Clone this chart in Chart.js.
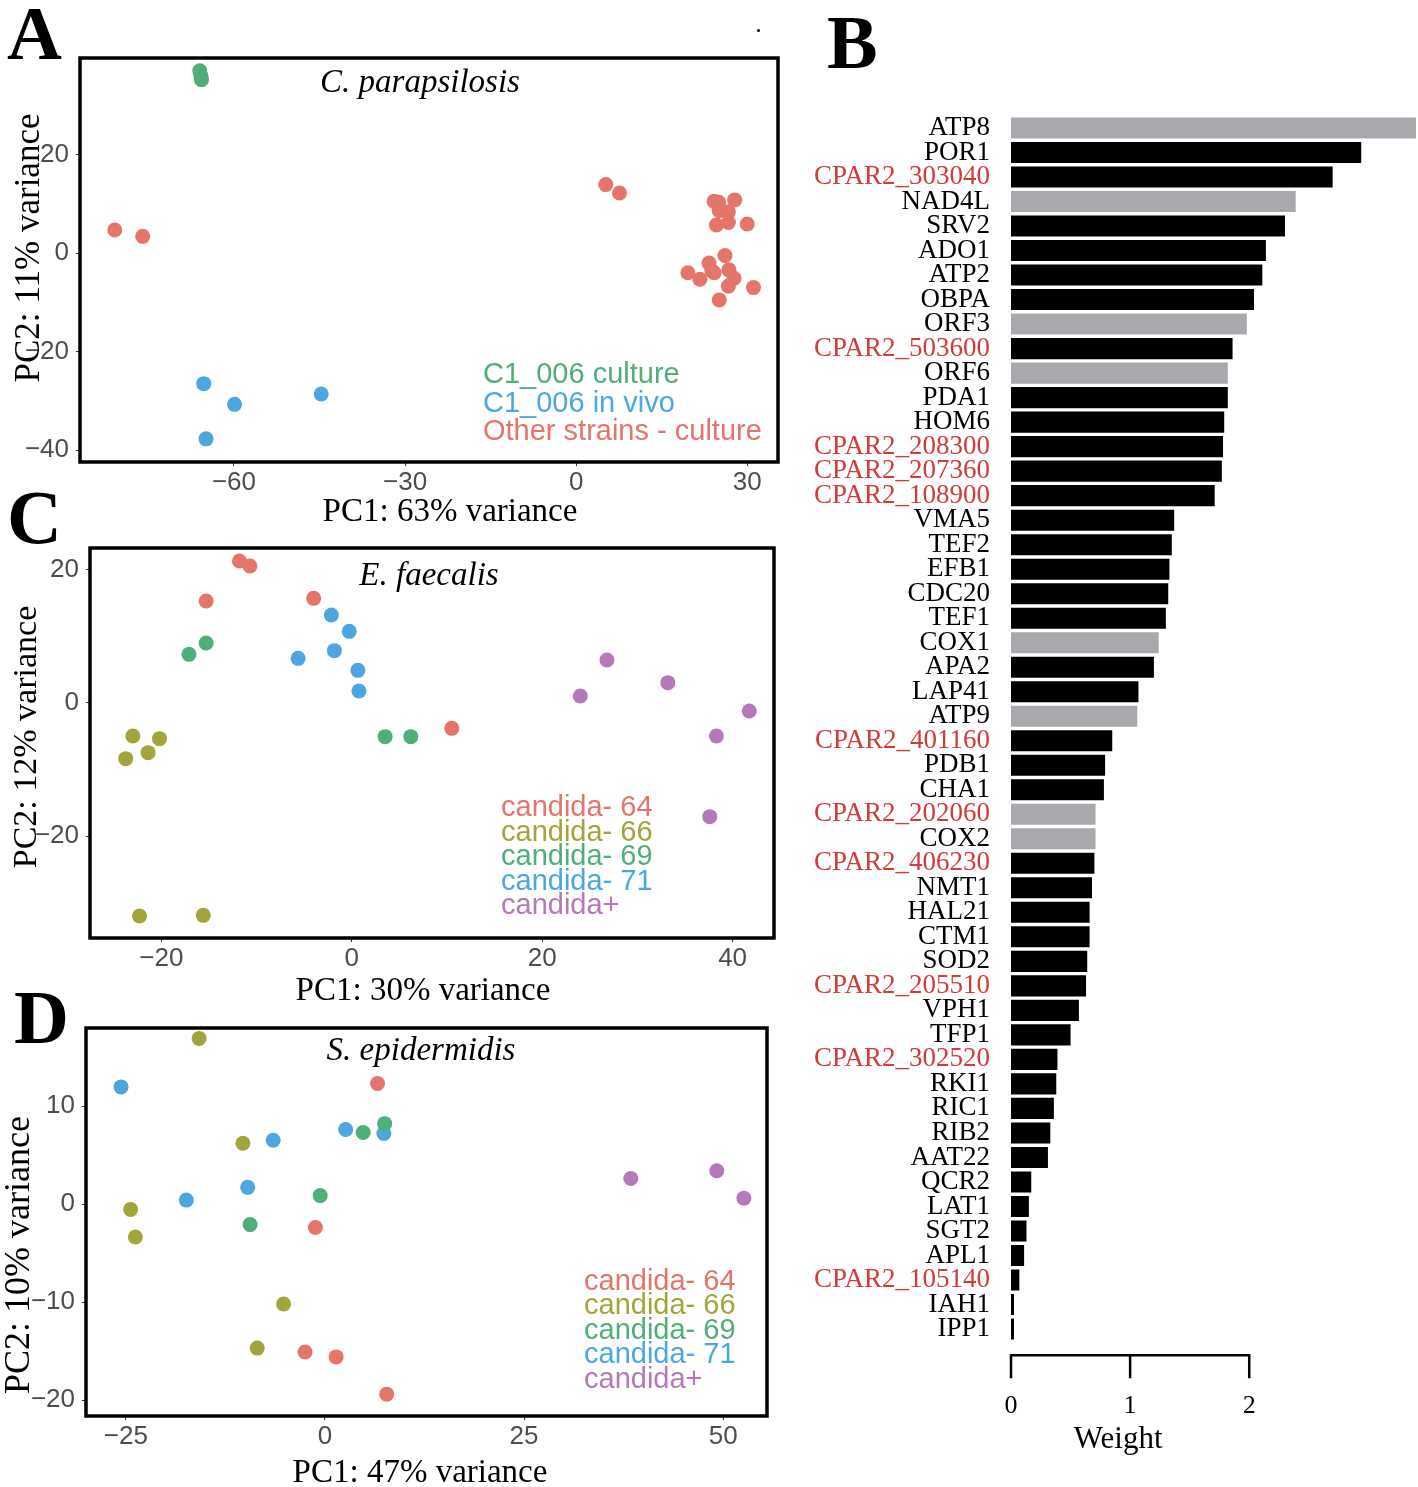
<!DOCTYPE html>
<html><head><meta charset="utf-8">
<script src="https://cdn.jsdelivr.net/npm/chart.js@4.4.0/dist/chart.umd.min.js"></script>
<style>
html,body{margin:0;padding:0;background:#fff;}
body{width:1418px;height:1487px;position:relative;overflow:hidden;}
.panel{position:absolute;}
.letter{position:absolute;font-family:'Liberation Serif','Times New Roman',serif;font-weight:bold;font-size:76px;line-height:1;color:#000;}
.dot{position:absolute;left:757px;top:29px;width:3px;height:3px;background:#000;border-radius:50%;}
</style></head><body>
<div class="panel" style="left:0;top:0"><canvas id="cA" width="800" height="530"></canvas></div>
<div class="panel" style="left:0;top:530px"><canvas id="cC" width="800" height="480"></canvas></div>
<div class="panel" style="left:0;top:1010px"><canvas id="cD" width="800" height="477"></canvas></div>
<div class="panel" style="left:800px;top:90px"><canvas id="cB" width="618" height="1397"></canvas></div>
<div class="letter" style="left:7px;top:-5px">A</div>
<div class="letter" style="left:827px;top:4px">B</div>
<div class="letter" style="left:7px;top:479px">C</div>
<div class="letter" style="left:14px;top:979px">D</div>
<div class="dot"></div>
<script>
// ---------- Panel A data ----------
const A_X_TICKS = [-60, -30, 0, 30];
const A_Y_TICKS = [-40, -20, 0, 20];
const A_GROUPS = ['C1_006 culture', 'C1_006 in vivo', 'Other strains - culture'];
const A_CULTURE_X = [-66.0, -65.8, -65.7];
const A_CULTURE_Y = [37.0, 36.0, 35.2];
const A_INVIVO_X = [-65.3, -59.9, -44.7, -64.9];
const A_INVIVO_Y = [-26.5, -30.7, -28.6, -37.7];
const A_OTHER_X = [-80.9, -76.0, 5.2, 7.6, 24.2, 27.8, 25.1, 26.7, 24.6, 26.7, 30.0, 26.1, 19.6, 23.3, 21.7, 24.2, 26.8, 27.7, 26.7, 31.1, 25.1, 25.0, 23.8];
const A_OTHER_Y = [4.7, 3.4, 13.9, 12.2, 10.5, 10.8, 8.6, 8.4, 5.7, 6.2, 5.9, -0.5, -4.0, -2.0, -5.3, -4.0, -3.4, -5.1, -6.7, -7.0, -9.5, 10.3, -3.6];

// ---------- Panel C data ----------
const C_X_TICKS = [-20, 0, 20, 40];
const C_Y_TICKS = [-20, 0, 20];
const CAND_GROUPS = ['candida- 64', 'candida- 66', 'candida- 69', 'candida- 71', 'candida+'];
const C_64_X = [-11.8, -10.7, -15.3, -4.0, 10.5];
const C_64_Y = [21.25, 20.5, 15.25, 15.65, -3.85];
const C_66_X = [-23.0, -20.2, -21.4, -23.75, -22.3, -15.6];
const C_66_Y = [-5.0, -5.4, -7.5, -8.4, -32.0, -31.9];
const C_69_X = [-17.1, -15.3, 3.5, 6.2];
const C_69_Y = [7.25, 8.95, -5.1, -5.1];
const C_71_X = [-2.15, -0.27, -1.83, -5.64, 0.64, 0.75];
const C_71_Y = [13.15, 10.7, 7.8, 6.65, 4.85, 1.75];
const C_PLUS_X = [26.8, 33.2, 24.0, 41.75, 38.3, 37.6];
const C_PLUS_Y = [6.4, 3.0, 1.0, -1.25, -5.0, -17.1];

// ---------- Panel D data ----------
const D_X_TICKS = [-25, 0, 25, 50];
const D_Y_TICKS = [-20, -10, 0, 10];
const D_64_X = [6.6, -1.2, -2.5, 1.4, 7.75];
const D_64_Y = [12.3, -2.4, -15.1, -15.6, -19.4];
const D_66_X = [-15.8, -10.3, -24.4, -23.8, -5.2, -8.5];
const D_66_Y = [16.9, 6.2, -0.55, -3.36, -10.2, -14.7];
const D_69_X = [7.5, 4.8, -0.6, -9.4];
const D_69_Y = [8.2, 7.3, 0.86, -2.1];
const D_71_X = [-25.6, -6.5, 2.6, 7.4, -9.7, -17.4];
const D_71_Y = [11.95, 6.5, 7.6, 7.2, 1.7, 0.4];
const D_PLUS_X = [38.4, 49.2, 52.6];
const D_PLUS_Y = [2.6, 3.4, 0.6];

// ---------- Panel B data ----------
const B_GENES = ['ATP8','POR1','CPAR2_303040','NAD4L','SRV2','ADO1','ATP2','OBPA','ORF3','CPAR2_503600','ORF6','PDA1','HOM6','CPAR2_208300','CPAR2_207360','CPAR2_108900','VMA5','TEF2','EFB1','CDC20','TEF1','COX1','APA2','LAP41','ATP9','CPAR2_401160','PDB1','CHA1','CPAR2_202060','COX2','CPAR2_406230','NMT1','HAL21','CTM1','SOD2','CPAR2_205510','VPH1','TFP1','CPAR2_302520','RKI1','RIC1','RIB2','AAT22','QCR2','LAT1','SGT2','APL1','CPAR2_105140','IAH1','IPP1'];
const B_WEIGHTS = [3.40,2.94,2.70,2.39,2.30,2.14,2.11,2.04,1.98,1.86,1.82,1.82,1.79,1.78,1.77,1.71,1.37,1.35,1.33,1.32,1.30,1.24,1.20,1.07,1.06,0.85,0.79,0.78,0.71,0.71,0.70,0.68,0.66,0.66,0.64,0.63,0.57,0.50,0.39,0.38,0.36,0.33,0.31,0.17,0.15,0.13,0.11,0.07,0.025,0.025];
const B_GREY_GENES = ['ATP8','NAD4L','ORF3','ORF6','COX1','ATP9','CPAR2_202060','COX2'];
const B_TICKS = [0, 1, 2];

// ---------- styles ----------
const RED = '#E5746A', OLIVE = '#A4A43C', GREEN = '#50AE78', BLUE = '#4DA6DF', PURPLE = '#B479B8';
const SANS = "'Liberation Sans', Arial, Helvetica, sans-serif";
const SERIF = "'Liberation Serif', 'Times New Roman', serif";

const zip = (xs, ys) => xs.map((x, i) => ({x, y: ys[i]}));
const fmt = v => (v < 0 ? '\u2212' + Math.abs(v) : String(v));
const noPadY = s => { s.paddingTop = 0; s.paddingBottom = 0; };
const noPadX = s => { s.paddingLeft = 0; s.paddingRight = 0; };

const decoPlugin = {
  id: 'deco',
  afterDatasetsDraw(chart, args, o) {
    const ctx = chart.ctx, ca = chart.chartArea;
    ctx.save();
    ctx.lineWidth = 3.5;
    ctx.strokeStyle = '#000';
    ctx.strokeRect(ca.left, ca.top, ca.right - ca.left, ca.bottom - ca.top);
    ctx.fillStyle = '#000';
    ctx.textAlign = 'center';
    ctx.textBaseline = 'middle';
    ctx.font = 'italic 33px ' + SERIF;
    ctx.fillText(o.title, o.titleX, o.titleY);
    ctx.font = o.xtSize + 'px ' + SERIF;
    ctx.fillText(o.xtitle, o.xtX, o.xtY);
    ctx.save();
    ctx.translate(o.ytX, o.ytY);
    ctx.rotate(-Math.PI / 2);
    ctx.font = o.ytSize + 'px ' + SERIF;
    ctx.fillText(o.ytitle, 0, 0);
    ctx.restore();
    ctx.font = o.legendSize + 'px ' + SANS;
    ctx.textAlign = 'left';
    chart.data.datasets.forEach((ds, i) => {
      ctx.fillStyle = ds.backgroundColor;
      ctx.fillText(ds.label, o.legendX, o.legendY + i * o.legendStep);
    });
    ctx.restore();
  }
};

function scatterChart(id, datasets, c) {
  return new Chart(document.getElementById(id), {
    type: 'scatter',
    data: {datasets: datasets.map(d => ({label: d.label, data: d.data, backgroundColor: d.color, borderWidth: 0, pointRadius: 7.5, pointHoverRadius: 7.5}))},
    plugins: [decoPlugin],
    options: {
      responsive: false, animation: false, devicePixelRatio: 1,
      layout: {padding: {top: c.padTop, right: c.padRight, left: 0, bottom: 0}},
      plugins: {legend: {display: false}, tooltip: {enabled: false},
        deco: {title: c.title, titleX: c.titleX, titleY: c.titleY,
               xtitle: c.xtitle, xtX: c.xtX, xtY: c.xtY, xtSize: c.xtSize,
               ytitle: c.ytitle, ytX: c.ytX, ytY: c.ytY, ytSize: c.ytSize,
               legendX: c.legendX, legendY: c.legendY, legendStep: c.legendStep, legendSize: 29}},
      scales: {
        x: {type: 'linear', min: c.xmin, max: c.xmax,
          afterBuildTicks: s => { s.ticks = c.xticks.map(v => ({value: v})); },
          afterFit: s => { s.height = c.xh; noPadX(s); },
          grid: {display: true, drawOnChartArea: false, drawTicks: true, tickLength: 4, color: '#333', lineWidth: 1},
          border: {display: false},
          ticks: {font: {family: SANS, size: 26}, color: '#4D4D4D', padding: 1, maxRotation: 0, autoSkip: false, callback: v => fmt(v)},
          title: {display: false}
        },
        y: {type: 'linear', min: c.ymin, max: c.ymax,
          afterBuildTicks: s => { s.ticks = c.yticks.map(v => ({value: v})); },
          afterFit: s => { s.width = c.yw; noPadY(s); },
          grid: {display: true, drawOnChartArea: false, drawTicks: true, tickLength: 4, color: '#333', lineWidth: 1},
          border: {display: false},
          ticks: {font: {family: SANS, size: 26}, color: '#4D4D4D', padding: 7, autoSkip: false, callback: v => fmt(v)},
          title: {display: false}
        }
      }
    }
  });
}

scatterChart('cA', [
  {label: A_GROUPS[0], data: zip(A_CULTURE_X, A_CULTURE_Y), color: GREEN},
  {label: A_GROUPS[1], data: zip(A_INVIVO_X, A_INVIVO_Y), color: BLUE},
  {label: A_GROUPS[2], data: zip(A_OTHER_X, A_OTHER_Y), color: RED}
], {padTop: 58, padRight: 22, xh: 68, yw: 80, xmin: -87.0, xmax: 35.4, ymin: -42.4, ymax: 39.6,
   xticks: A_X_TICKS, yticks: A_Y_TICKS,
   xtitle: 'PC1: 63% variance', xtX: 450, xtY: 512, xtSize: 33,
   ytitle: 'PC2: 11% variance', ytX: 30, ytY: 248, ytSize: 35,
   title: 'C. parapsilosis', titleX: 420, titleY: 83, legendX: 483, legendY: 375, legendStep: 28.5});

scatterChart('cC', [
  {label: CAND_GROUPS[0], data: zip(C_64_X, C_64_Y), color: RED},
  {label: CAND_GROUPS[1], data: zip(C_66_X, C_66_Y), color: OLIVE},
  {label: CAND_GROUPS[2], data: zip(C_69_X, C_69_Y), color: GREEN},
  {label: CAND_GROUPS[3], data: zip(C_71_X, C_71_Y), color: BLUE},
  {label: CAND_GROUPS[4], data: zip(C_PLUS_X, C_PLUS_Y), color: PURPLE}
], {padTop: 18, padRight: 26, xh: 72, yw: 90, xmin: -27.5, xmax: 44.35, ymin: -35.3, ymax: 23.2,
   xticks: C_X_TICKS, yticks: C_Y_TICKS,
   xtitle: 'PC1: 30% variance', xtX: 423, xtY: 461, xtSize: 33,
   ytitle: 'PC2: 12% variance', ytX: 27, ytY: 207, ytSize: 34,
   title: 'E. faecalis', titleX: 429, titleY: 46, legendX: 501, legendY: 278, legendStep: 24.5});

scatterChart('cD', [
  {label: CAND_GROUPS[0], data: zip(D_64_X, D_64_Y), color: RED},
  {label: CAND_GROUPS[1], data: zip(D_66_X, D_66_Y), color: OLIVE},
  {label: CAND_GROUPS[2], data: zip(D_69_X, D_69_Y), color: GREEN},
  {label: CAND_GROUPS[3], data: zip(D_71_X, D_71_Y), color: BLUE},
  {label: CAND_GROUPS[4], data: zip(D_PLUS_X, D_PLUS_Y), color: PURPLE}
], {padTop: 18, padRight: 33, xh: 71, yw: 86, xmin: -30.0, xmax: 55.5, ymin: -21.63, ymax: 17.96,
   xticks: D_X_TICKS, yticks: D_Y_TICKS,
   xtitle: 'PC1: 47% variance', xtX: 420, xtY: 463, xtSize: 33,
   ytitle: 'PC2: 10% variance', ytX: 20, ytY: 245, ytSize: 36,
   title: 'S. epidermidis', titleX: 421, titleY: 41, legendX: 584, legendY: 272, legendStep: 24.4});

// ---------- Panel B ----------
const weightAxisPlugin = {
  id: 'weightAxis',
  afterDraw(chart) {
    const ctx = chart.ctx, xs = chart.scales.x;
    const y0 = chart.chartArea.bottom + 14;
    const x0 = xs.getPixelForValue(B_TICKS[0]), x1 = xs.getPixelForValue(B_TICKS[B_TICKS.length - 1]);
    ctx.save();
    ctx.strokeStyle = '#000';
    ctx.lineWidth = 2.5;
    ctx.beginPath();
    ctx.moveTo(x0 - 1.25, y0); ctx.lineTo(x1 + 1.25, y0);
    B_TICKS.forEach(v => { const px = xs.getPixelForValue(v); ctx.moveTo(px, y0); ctx.lineTo(px, y0 + 23); });
    ctx.stroke();
    ctx.fillStyle = '#000';
    ctx.font = '31px ' + SERIF;
    ctx.textAlign = 'center';
    ctx.textBaseline = 'middle';
    ctx.fillText('Weight', (x0 + x1) / 2 - 12, chart.chartArea.bottom + 99);
    ctx.restore();
  }
};

new Chart(document.getElementById('cB'), {
  type: 'bar',
  data: {labels: B_GENES, datasets: [{data: B_WEIGHTS,
    backgroundColor: B_GENES.map(g => B_GREY_GENES.includes(g) ? '#A7A9AC' : '#000'),
    borderWidth: 0, barPercentage: 0.86, categoryPercentage: 1}]},
  plugins: [weightAxisPlugin],
  options: {
    indexAxis: 'y', responsive: false, animation: false, devicePixelRatio: 1,
    layout: {padding: {top: 25.75, right: 2, left: 0, bottom: 0}},
    plugins: {legend: {display: false}, tooltip: {enabled: false}},
    scales: {
      x: {type: 'linear', min: 0, max: 3.40,
        afterBuildTicks: s => { s.ticks = B_TICKS.map(v => ({value: v})); },
        afterFit: s => { s.height = 145.75; noPadX(s); },
        grid: {display: false, drawTicks: false}, border: {display: false},
        ticks: {font: {family: SERIF, size: 26}, color: '#000', padding: 49, maxRotation: 0},
        title: {display: false}
      },
      y: {type: 'category',
        afterFit: s => { s.width = 211; noPadY(s); },
        grid: {display: false, drawTicks: false}, border: {display: false},
        ticks: {font: {family: SERIF, size: 27}, padding: 21, autoSkip: false,
          color: ctx => (B_GENES[ctx.index] || '').startsWith('CPAR2') ? '#D23B36' : '#000'}
      }
    }
  }
});
</script>
</body></html>
